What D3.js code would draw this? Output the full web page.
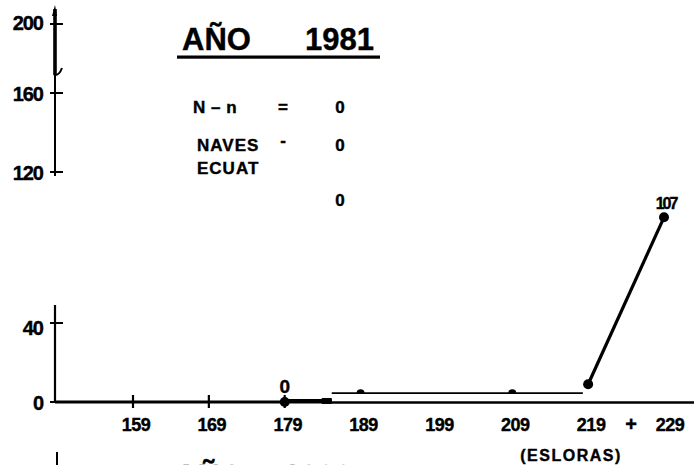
<!DOCTYPE html>
<html>
<head>
<meta charset="utf-8">
<script src="https://cdn.jsdelivr.net/npm/d3@7/dist/d3.min.js"></script>
<style>
  html, body { margin: 0; padding: 0; background: #fff; overflow: hidden; }
  svg { display: block; }
  text { font-family: "Liberation Sans", Arial, sans-serif; font-weight: bold; fill: #000; stroke: #000; stroke-width: 0.4px; }
</style>
</head>
<body>
<script>
// ---- data ----
const xTickValues = [159, 169, 179, 189, 199, 209, 219, 229];
const xTickLabels = ["159", "169", "179", "189", "199", "209", "219", "229"];
const xTickMarks = [159, 169, 179];
const yTickValues = [0, 40, 120, 160, 200];
const yTickLabels = ["0", "40", "120", "160", "200"];

const pointLengths = [179, 189, 209, 219, 229];
const pointValues  = [0, 5, 5, 9, 96];
const pointLabels  = ["0", "", "", "", "107"];
const pointSize    = ["big", "small", "small", "big", "big"];

const baseRun  = [179, 185.2];      // thick run along zero
const baseLevel = 0.5;
const levelRun = [185.2, 218.3];    // thin level line
const levelValue = 4.5;
const riseRun = [219, 229];         // final rise
const riseValues = [9, 96];

const title = ["AÑO", "1981"];
const infoRows = [
  { label: "N – n", sign: "=", value: "0" },
  { label: "NAVES", sign: "-", value: "0" },
  { label: "ECUAT", sign: "", value: "" },
  { label: "", sign: "", value: "0" }
];
const xAxisTitle = "(ESLORAS)";
const nextTitle = ["AÑO", "1982"];

// ---- drawing ----
const W = 694, H = 465;
const svg = d3.select("body").append("svg").attr("width", W).attr("height", H);
svg.append("rect").attr("width", W).attr("height", H).attr("fill", "#fff");

const x = d3.scaleLinear().domain([159, 229]).range([133, 664]);
const y = d3.scaleLinear().domain([0, 40, 120, 160, 200]).range([402, 323, 172, 93, 24]);
const axisX = 55;

// y axis (broken)
svg.append("path").attr("d", `M${axisX},${y(0)} L${axisX},${y(40) - 18}`)
  .attr("stroke", "#000").attr("stroke-width", 2.2).attr("fill", "none");
svg.append("path").attr("d", `M${axisX},${y(120) + 4} L${axisX},${y(200) + 50}`)
  .attr("stroke", "#000").attr("stroke-width", 2).attr("fill", "none");
svg.append("path").attr("d", `M${axisX},${y(200) + 51} L${axisX},9`)
  .attr("stroke", "#000").attr("stroke-width", 3.6).attr("fill", "none");
svg.append("path").attr("d", `M${axisX - 1},${y(200) + 51} Q${axisX + 4},${y(200) + 52} ${axisX + 7},${y(200) + 44}`)
  .attr("stroke", "#000").attr("stroke-width", 2).attr("fill", "none");
svg.append("path").attr("d", `M${axisX - 3},16 L${axisX},5 L${axisX + 2},16 Z`).attr("fill", "#000");

const yg = svg.append("g");
yTickValues.forEach((v, i) => {
  yg.append("line").attr("x1", axisX - 5).attr("x2", axisX + 8)
    .attr("y1", y(v)).attr("y2", y(v)).attr("stroke", "#000").attr("stroke-width", 2);
  yg.append("text").attr("x", 43).attr("y", y(v) + 8 - (v === 200 ? 2 : 0) + (v === 40 ? 4 : 0))
    .attr("text-anchor", "end").attr("font-size", 20).attr("letter-spacing", -1)
    .text(yTickLabels[i]);
});

// x axis
svg.append("line").attr("x1", axisX).attr("x2", 332).attr("y1", 402).attr("y2", 402)
  .attr("stroke", "#000").attr("stroke-width", 3.2);
svg.append("line").attr("x1", 332).attr("x2", W).attr("y1", 402.5).attr("y2", 402.5)
  .attr("stroke", "#000").attr("stroke-width", 2.4);
xTickMarks.forEach(v => {
  svg.append("line").attr("x1", x(v)).attr("x2", x(v)).attr("y1", 395).attr("y2", 408)
    .attr("stroke", "#000").attr("stroke-width", 2.2);
});
xTickValues.forEach((v, i) => {
  svg.append("text").attr("x", x(v) + 3 + (v === 229 ? 3 : 0)).attr("y", 431)
    .attr("text-anchor", "middle").attr("font-size", 18).attr("letter-spacing", -0.5)
    .text(xTickLabels[i]);
});
svg.append("text").attr("x", (x(219) + x(229)) / 2 + 5).attr("y", 431)
  .attr("text-anchor", "middle").attr("font-size", 20).text("+");
svg.append("text").attr("x", 571).attr("y", 461).attr("text-anchor", "middle")
  .attr("font-size", 16).attr("letter-spacing", 1.5).text(xAxisTitle);

// series
svg.append("line").attr("x1", x(baseRun[0])).attr("x2", x(baseRun[1]))
  .attr("y1", y(baseLevel)).attr("y2", y(baseLevel))
  .attr("stroke", "#000").attr("stroke-width", 4);
svg.append("rect").attr("x", x(baseRun[1]) - 10).attr("y", y(baseLevel) - 3)
  .attr("width", 10).attr("height", 6).attr("fill", "#000");
svg.append("line").attr("x1", x(levelRun[0])).attr("x2", x(levelRun[1]))
  .attr("y1", y(levelValue)).attr("y2", y(levelValue))
  .attr("stroke", "#000").attr("stroke-width", 1.6);
svg.append("line").attr("x1", x(riseRun[0])).attr("x2", x(riseRun[1]))
  .attr("y1", y(riseValues[0])).attr("y2", y(riseValues[1]))
  .attr("stroke", "#000").attr("stroke-width", 3.2);

pointLengths.forEach((v, i) => {
  if (pointSize[i] === "big") {
    svg.append("circle").attr("cx", x(v)).attr("cy", y(pointValues[i])).attr("r", 5).attr("fill", "#000");
  } else {
    svg.append("path")
      .attr("d", d3.arc()({ innerRadius: 0, outerRadius: 4, startAngle: -Math.PI / 2, endAngle: Math.PI / 2 }))
      .attr("transform", `translate(${x(v)},${y(pointValues[i]) + 1})`).attr("fill", "#000");
  }
  if (pointLabels[i]) {
    svg.append("text").attr("x", x(v) + (v === 229 ? 2 : 0)).attr("y", y(pointValues[i]) - (v === 229 ? 8 : 9))
      .attr("text-anchor", "middle").attr("font-size", v === 229 ? 16 : 19)
      .attr("letter-spacing", v === 229 ? -2 : 0).text(pointLabels[i]);
  }
});

// title
svg.append("text").attr("x", 182).attr("y", 50).attr("font-size", 31).text(title[0]);
svg.append("text").attr("x", 305).attr("y", 50).attr("font-size", 31).text(title[1]);
svg.append("rect").attr("x", 177).attr("y", 55.5).attr("width", 203).attr("height", 3.2).attr("fill", "#000");

// info block
const rowY = [113, 151, 174, 206];
infoRows.forEach((r, i) => {
  if (r.label) svg.append("text").attr("x", i === 0 ? 193 : 197).attr("y", rowY[i])
    .attr("font-size", 17).attr("letter-spacing", i === 0 ? 0.5 : 1).text(r.label);
  if (r.sign) svg.append("text").attr("x", 283).attr("y", rowY[i] - (r.sign === "-" ? 5 : 0))
    .attr("text-anchor", "middle").attr("font-size", 17).text(r.sign);
  if (r.value) svg.append("text").attr("x", 340).attr("y", rowY[i])
    .attr("text-anchor", "middle").attr("font-size", 17).text(r.value);
});

// next chart (cut off at bottom, as in the reference)
svg.append("line").attr("x1", 57).attr("x2", 57).attr("y1", 452).attr("y2", H)
  .attr("stroke", "#000").attr("stroke-width", 2);
svg.append("text").attr("x", 175).attr("y", 487).attr("font-size", 31).text(nextTitle[0]);
svg.append("text").attr("x", 283).attr("y", 487).attr("font-size", 31).text(nextTitle[1]);
</script>
</body>
</html>
